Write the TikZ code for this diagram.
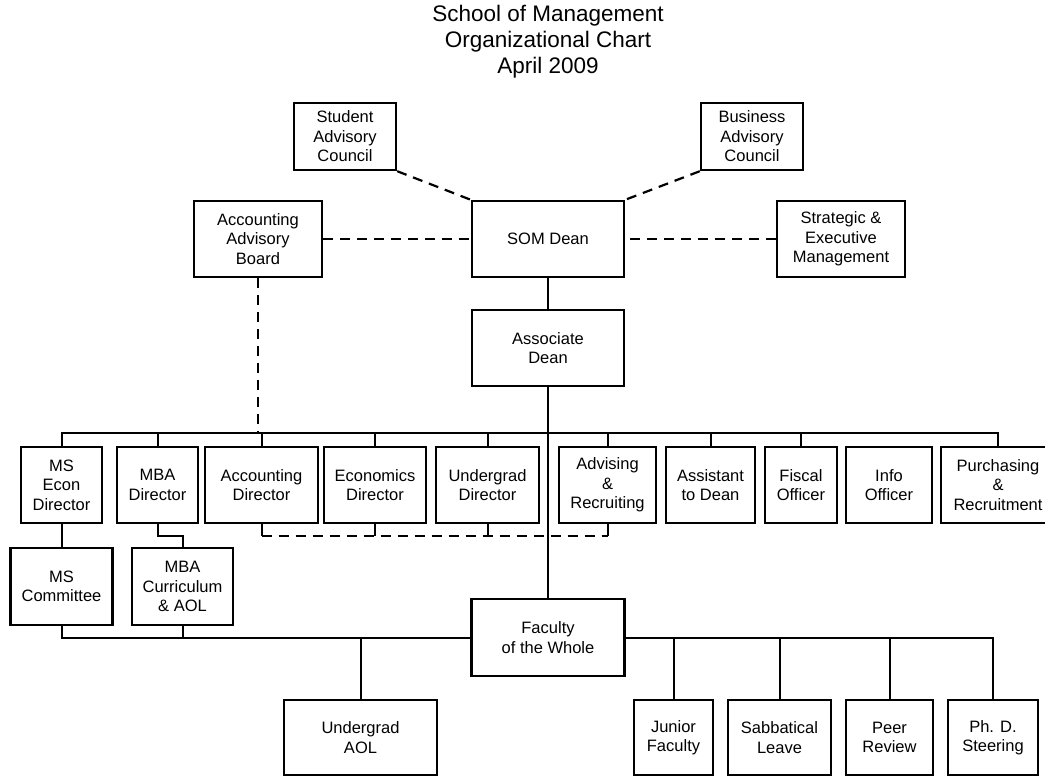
\documentclass[tikz,border=0pt]{standalone}
\usepackage{fontspec}
\setmainfont{Liberation Sans}
\begin{document}
\begin{tikzpicture}[x=1pt,y=-1pt,
  bx/.style={draw,line width=2.4pt,inner sep=0pt,align=center,
    font=\fontsize{16.5pt}{19.5pt}\selectfont},
  rowbox/.style={bx,minimum height=76pt},
  conn/.style={line width=2pt},
  dsh/.style={line width=2.2pt,dash pattern=on 10pt off 7pt},
  ttl/.style={anchor=base,inner sep=0pt,font=\fontsize{22.5pt}{26pt}\selectfont}]
\useasboundingbox (0,0) rectangle (1045,776);
% title
\node[ttl] (t1) at (548,22) {School of Management};
\node[ttl] (t2) at (548,48) {Organizational Chart};
\node[ttl] (t3) at (548,74) {April 2009};
% top
\node[bx,minimum width=102pt,minimum height=67pt] (student) at (345,136.5) {Student\\Advisory\\Council};
\node[bx,minimum width=102pt,minimum height=67pt] (business) at (752,136.5) {Business\\Advisory\\Council};
\node[bx,minimum width=128pt,minimum height=76pt] (acctboard) at (258,239) {Accounting\\Advisory\\Board};
\node[bx,minimum width=152pt,minimum height=76pt] (dean) at (548,239) {SOM Dean};
\node[bx,minimum width=128pt,minimum height=76pt] (strategic) at (841,239) {Strategic \&\\Executive\\Management};
\node[bx,minimum width=152pt,minimum height=76pt] (assoc) at (548,348) {Associate\\Dean};
% director row
\node[rowbox,minimum width=81pt] (msecon) at (61.5,485) {MS\\Econ\\Director};
\node[rowbox,minimum width=81pt] (mbadir) at (157.5,485) {MBA\\Director};
\node[rowbox,minimum width=113pt] (acctdir) at (261.5,485) {Accounting\\Director};
\node[rowbox,minimum width=102pt] (econdir) at (375,485) {Economics\\Director};
\node[rowbox,minimum width=103pt] (ugdir) at (487.5,485) {Undergrad\\Director};
\node[rowbox,minimum width=97pt] (advising) at (607.5,485) {Advising\\\&\\Recruiting};
\node[rowbox,minimum width=89pt] (assistant) at (710.5,485) {Assistant\\to Dean};
\node[rowbox,minimum width=72pt] (fiscal) at (801,485) {Fiscal\\Officer};
\node[rowbox,minimum width=86pt] (info) at (889,485) {Info\\Officer};
\node[rowbox,minimum width=114pt] (purch) at (998,485) {Purchasing\\\&\\Recruitment};
% second level
\node[bx,minimum width=102pt,minimum height=77pt] (msc) at (61.5,586.5) {MS\\Committee};
\node[bx,minimum width=101pt,minimum height=77pt] (mbacur) at (182.5,586.5) {MBA\\Curriculum\\\& AOL};
\node[bx,minimum width=153pt,minimum height=77pt] (faculty) at (548,637.5) {Faculty\\of the Whole};
% bottom row
\node[bx,minimum width=153pt,minimum height=75pt] (ugaol) at (360.5,737.5) {Undergrad\\AOL};
\node[bx,minimum width=79pt,minimum height=75pt] (junior) at (673.5,737.5) {Junior\\Faculty};
\node[bx,minimum width=103pt,minimum height=75pt] (sabb) at (779.5,737.5) {Sabbatical\\Leave};
\node[bx,minimum width=87pt,minimum height=75pt] (peer) at (889.5,737.5) {Peer\\Review};
\node[bx,minimum width=90pt,minimum height=75pt] (phd) at (993,737.5) {Ph. D.\\Steering};
% coordinates
\coordinate (bus) at (548,433);
\coordinate (dl) at (548,536);
% dashed advisory links
\draw[dsh] (student.south east) -- (dean.north west);
\draw[dsh] (business.south west) -- (dean.north east);
\draw[dsh] (acctboard.east) -- (dean.west);
\draw[dsh] (strategic.west) -- (dean.east);
\draw[dsh] (acctboard.south) -- (acctboard.south |- bus);
% solid hierarchy
\draw[conn] (dean.south) -- (assoc.north);
\draw[conn] (assoc.south) -- (faculty.north);
\draw[conn] (msecon.north) |- (bus) -| (purch.north);
\draw[conn] (mbadir.north) -- (mbadir.north |- bus);
\draw[conn] (acctdir.north) -- (acctdir.north |- bus);
\draw[conn] (econdir.north) -- (econdir.north |- bus);
\draw[conn] (ugdir.north) -- (ugdir.north |- bus);
\draw[conn] (advising.north) -- (advising.north |- bus);
\draw[conn] (assistant.north) -- (assistant.north |- bus);
\draw[conn] (fiscal.north) -- (fiscal.north |- bus);
% dashed link below directors
\draw[conn] (acctdir.south) -- (acctdir.south |- dl);
\draw[conn] (econdir.south) -- (econdir.south |- dl);
\draw[conn] (ugdir.south) -- (ugdir.south |- dl);
\draw[conn] (advising.south) -- (advising.south |- dl);
\draw[dsh] (acctdir.south |- dl) -- (advising.south |- dl);
% second level links
\draw[conn] (msecon.south) -- (msc.north);
\draw[conn] (mbadir.south) -- ++(0,12) -| (mbacur.north);
\draw[conn] (msc.south) |- (faculty.west);
\draw[conn] (mbacur.south) -- (mbacur.south |- faculty.west);
\draw[conn] (ugaol.north) -- (ugaol.north |- faculty.west);
\draw[conn] (faculty.east) -| (phd.north);
\draw[conn] (junior.north) -- (junior.north |- faculty.east);
\draw[conn] (sabb.north) -- (sabb.north |- faculty.east);
\draw[conn] (peer.north) -- (peer.north |- faculty.east);
\end{tikzpicture}
\end{document}
